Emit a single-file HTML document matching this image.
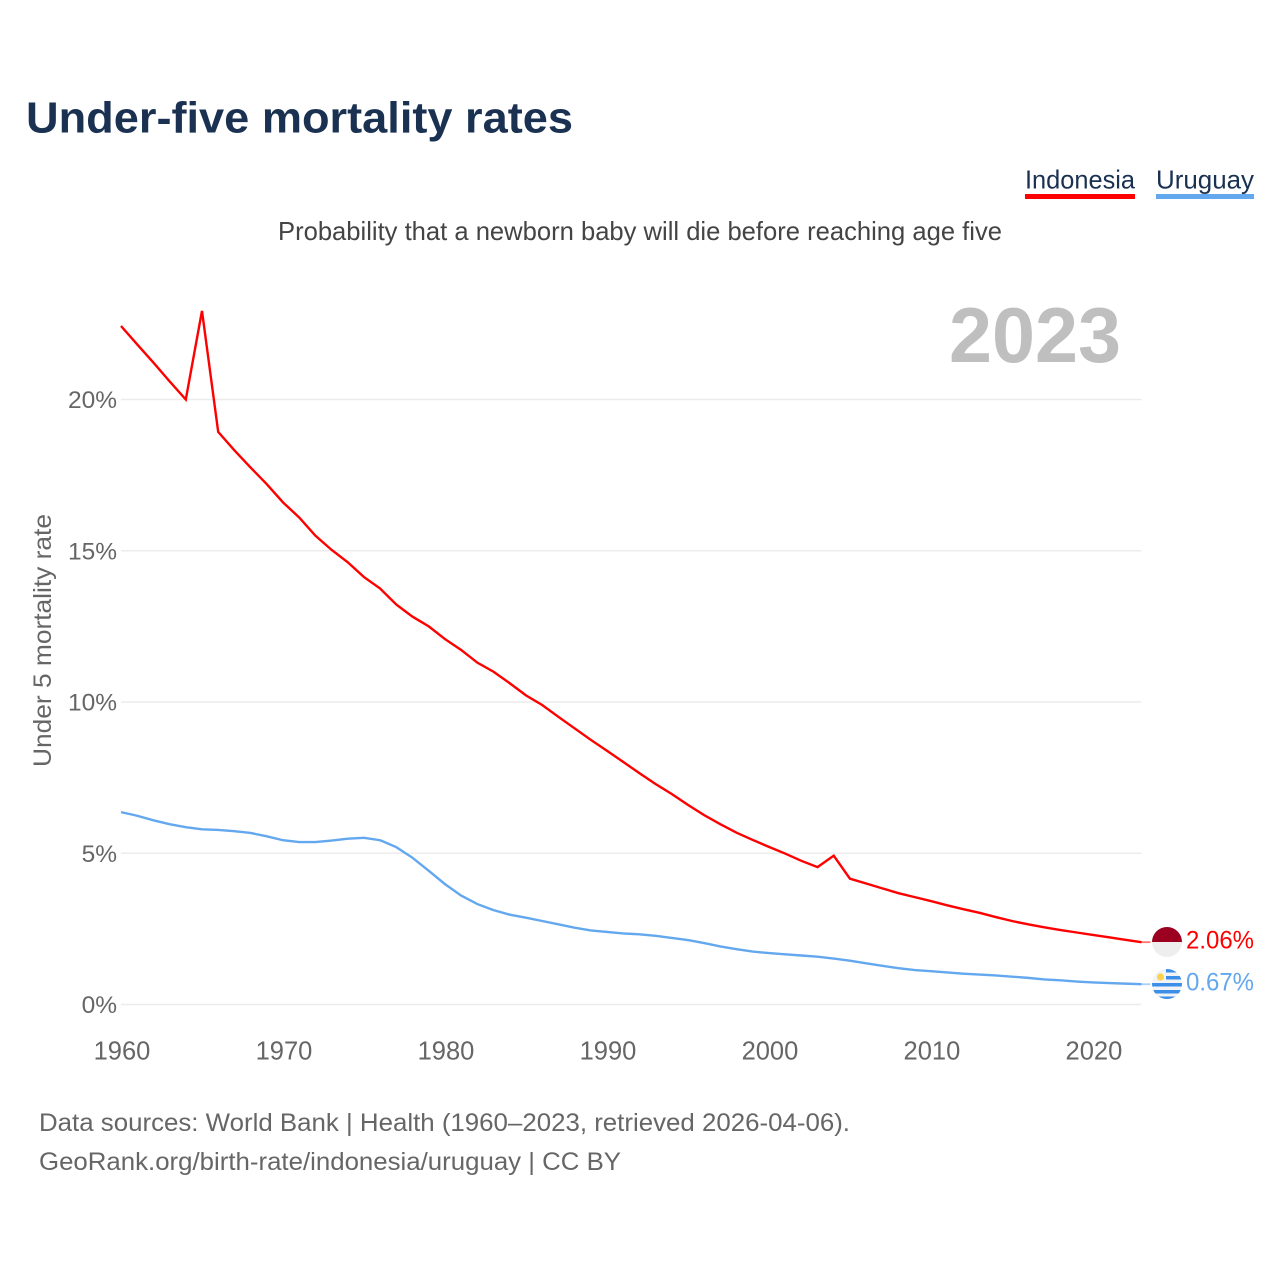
<!DOCTYPE html>
<html lang="en">
<head>
<meta charset="utf-8">
<title>Under-five mortality rates</title>
<style>
html,body{margin:0;padding:0;background:#fff;width:1280px;height:1280px;overflow:hidden}
svg{display:block}
text{font-family:"Liberation Sans",sans-serif}
</style>
</head>
<body>
<svg id="chart" xmlns="http://www.w3.org/2000/svg" width="1280" height="1280" viewBox="0 0 1280 1280">
  <defs>
    <clipPath id="clip-id"><circle cx="1167" cy="942" r="15"/></clipPath>
    <clipPath id="clip-uy"><circle cx="1167" cy="984" r="15"/></clipPath>
  </defs>
  <rect width="1280" height="1280" fill="#fff"/>
  <text x="26" y="132.5" font-size="44" font-weight="700" fill="#1a3152" textLength="547" lengthAdjust="spacingAndGlyphs">Under-five mortality rates</text>

  <g style="cursor:pointer">
    <text x="1025" y="188.5" font-size="26" fill="#1a3152" textLength="110" lengthAdjust="spacingAndGlyphs">Indonesia</text>
    <rect x="1025" y="194" width="110" height="5" fill="#ff0000"/>
  </g>
  <g style="cursor:pointer">
    <text x="1156" y="188.5" font-size="26" fill="#1a3152" textLength="98" lengthAdjust="spacingAndGlyphs">Uruguay</text>
    <rect x="1156" y="194" width="98" height="5" fill="#63a8ee"/>
  </g>

  <text x="278" y="240" font-size="26" fill="#444" textLength="724" lengthAdjust="spacingAndGlyphs">Probability that a newborn baby will die before reaching age five</text>
  <text x="949" y="362" font-size="78" font-weight="700" fill="#bfbfbf" textLength="172" lengthAdjust="spacingAndGlyphs">2023</text>

  <g id="grid"></g>
  <g id="y-ticks"></g>
  <g id="x-ticks"></g>
  <text transform="translate(51,767) rotate(-90)" font-size="25" fill="#666" textLength="253" lengthAdjust="spacingAndGlyphs">Under 5 mortality rate</text>

  <g id="series"></g>

  <g clip-path="url(#clip-id)">
    <rect x="1150" y="925" width="34" height="17" fill="#9c0020"/>
    <rect x="1150" y="942" width="34" height="17" fill="#eeeeee"/>
  </g>
  <g clip-path="url(#clip-uy)">
    <rect x="1150" y="967" width="34" height="34" fill="#f1f3f5"/>
    <rect x="1166" y="969" width="18" height="3.5" fill="#3b8fe8"/>
    <rect x="1166" y="976" width="18" height="3.5" fill="#3b8fe8"/>
    <rect x="1150" y="983" width="34" height="3.5" fill="#3b8fe8"/>
    <rect x="1150" y="990" width="34" height="3.5" fill="#3b8fe8"/>
    <rect x="1150" y="996.5" width="34" height="3" fill="#3b8fe8"/>
    <circle cx="1160.5" cy="977" r="3.6" fill="#fbd34d"/>
  </g>

  <text x="1186" y="948.5" font-size="25" fill="#ff0000" textLength="68" lengthAdjust="spacingAndGlyphs">2.06%</text>
  <text x="1186" y="990.5" font-size="25" fill="#63a8ee" textLength="68" lengthAdjust="spacingAndGlyphs">0.67%</text>

  <text x="39" y="1131" font-size="25" fill="#666" textLength="811" lengthAdjust="spacingAndGlyphs">Data sources: World Bank | Health (1960–2023, retrieved 2026-04-06).</text>
  <text x="39" y="1170" font-size="25" fill="#666" textLength="582" lengthAdjust="spacingAndGlyphs">GeoRank.org/birth-rate/indonesia/uruguay | CC BY</text>
</svg>
<script>
const startYear = 1960;
const endYear = 2023;
const yTickValues = [0, 5, 10, 15, 20];
const yTickLabels = ["0%", "5%", "10%", "15%", "20%"];
const xTickValues = [1960, 1970, 1980, 1990, 2000, 2010, 2020];
const xTickLabels = ["1960", "1970", "1980", "1990", "2000", "2010", "2020"];
const indonesiaValues = [22.43,21.82,21.22,20.6,20.0,22.93,18.93,18.32,17.75,17.2,16.6,16.1,15.5,15.03,14.62,14.13,13.75,13.22,12.82,12.5,12.08,11.72,11.3,11.0,10.62,10.22,9.9,9.51,9.13,8.75,8.39,8.02,7.65,7.29,6.96,6.6,6.26,5.96,5.68,5.44,5.21,4.99,4.75,4.54,4.92,4.16,4.0,3.84,3.68,3.55,3.42,3.28,3.15,3.03,2.89,2.76,2.65,2.55,2.46,2.38,2.3,2.22,2.14,2.06];
const uruguayValues = [6.36,6.24,6.09,5.96,5.86,5.79,5.77,5.73,5.67,5.56,5.43,5.37,5.37,5.42,5.48,5.51,5.43,5.2,4.85,4.42,3.98,3.6,3.32,3.12,2.97,2.87,2.76,2.65,2.54,2.45,2.4,2.35,2.32,2.27,2.2,2.13,2.03,1.92,1.83,1.75,1.7,1.66,1.62,1.58,1.52,1.45,1.36,1.28,1.2,1.14,1.1,1.06,1.02,0.99,0.96,0.92,0.88,0.83,0.8,0.76,0.73,0.71,0.69,0.67];

const NS = "http://www.w3.org/2000/svg";
const plotLeft = 121, plotRight = 1141.5, plotBase = 1004.5, pxPerUnit = 30.25;
function xScale(year) { return plotLeft + (year - startYear) * (plotRight - plotLeft) / (endYear - startYear); }
function yScale(v) { return plotBase - v * pxPerUnit; }
function make(tag, attrs, parent) {
  const el = document.createElementNS(NS, tag);
  for (const k in attrs) el.setAttribute(k, attrs[k]);
  parent.appendChild(el);
  return el;
}
const grid = document.getElementById("grid");
const yTicks = document.getElementById("y-ticks");
const xTicks = document.getElementById("x-ticks");
const seriesGroup = document.getElementById("series");

yTickValues.forEach(function (v, i) {
  const line = make("line", { x1: plotLeft, x2: plotRight, y1: yScale(v), y2: yScale(v), stroke: "#ececec", "stroke-width": 1.6 }, grid);
  
  
  const t = make("text", { x: 117, y: yScale(v) + 8.5, "text-anchor": "end", "font-size": 24.5, fill: "#666" }, yTicks);
  t.textContent = yTickLabels[i];
  
  
});

xTickValues.forEach(function (v, i) {
  const t = make("text", { x: xScale(v) + 1, y: 1059.5, "text-anchor": "middle", "font-size": 25.5, fill: "#666" }, xTicks);
  t.textContent = xTickLabels[i];
  
  
});

function drawSeries(values, color, name) {
  const pts = values.map(function (v, i) { return xScale(startYear + i).toFixed(2) + "," + yScale(v).toFixed(2); });
  const last = values[values.length - 1];
  const stub = make("line", { x1: plotRight, x2: plotRight + 9, y1: yScale(last), y2: yScale(last), stroke: color, "stroke-width": 1.8, opacity: 0.55 }, seriesGroup);
  
  
  const line = make("polyline", { points: pts.join(" "), fill: "none", stroke: color, "stroke-width": 2.4, "stroke-linejoin": "miter" }, seriesGroup);
  
  
}
drawSeries(indonesiaValues, "#ff0000", "line-indonesia");
drawSeries(uruguayValues, "#63a8ee", "line-uruguay");
</script>
</body>
</html>
